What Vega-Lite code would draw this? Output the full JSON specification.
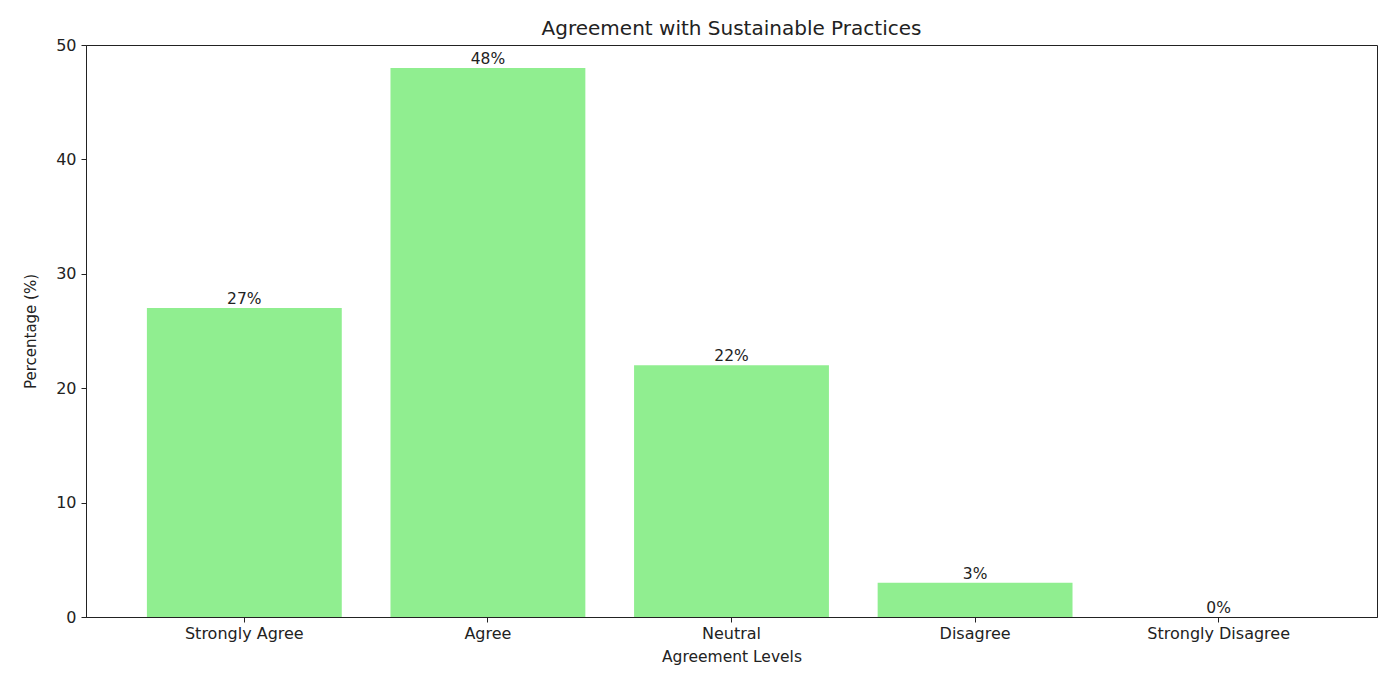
{
  "$schema": "https://vega.github.io/schema/vega-lite/v6.json",
  "width": 1291,
  "height": 572,
  "autosize": {"type": "none"},
  "padding": {"left": 86, "top": 45, "right": 17, "bottom": 56},
  "background": "white",
  "title": {"text": "Agreement with Sustainable Practices", "font": "DejaVu Sans", "fontSize": 20, "fontWeight": "normal", "color": "#222", "offset": -2},
  "data": {"values": [
    {"level": "Strongly Agree", "pct": 27, "label": "27%"},
    {"level": "Agree", "pct": 48, "label": "48%"},
    {"level": "Neutral", "pct": 22, "label": "22%"},
    {"level": "Disagree", "pct": 3, "label": "3%"},
    {"level": "Strongly Disagree", "pct": 0, "label": "0%"}
  ]},
  "encoding": {
    "x": {"field": "level", "type": "nominal", "sort": null,
      "scale": {"paddingInner": 0.2, "paddingOuter": 0.25},
      "axis": {"title": "Agreement Levels", "labelAngle": 0, "labelFont": "DejaVu Sans", "labelFontSize": 16, "labelColor": "#222", "titleFont": "DejaVu Sans", "titleFontSize": 15.5, "titleFontWeight": "normal", "titleColor": "#222", "tickColor": "#222", "domainColor": "#222", "tickSize": 5, "labelPadding": 3, "titlePadding": 8}},
    "y": {"field": "pct", "type": "quantitative",
      "scale": {"domain": [0, 50], "nice": false},
      "axis": {"title": "Percentage (%)", "values": [0, 10, 20, 30, 40, 50], "grid": false, "labelFont": "DejaVu Sans", "labelFontSize": 16, "labelColor": "#222", "titleFont": "DejaVu Sans", "titleFontSize": 15, "titleFontWeight": "normal", "titleColor": "#222", "tickColor": "#222", "domainColor": "#222", "tickSize": 5, "labelPadding": 5, "titlePadding": 17}}
  },
  "layer": [
    {"mark": {"type": "bar", "color": "#90EE90"}},
    {"mark": {"type": "text", "baseline": "bottom", "dy": -1, "font": "DejaVu Sans", "fontSize": 15.5, "color": "#222"},
     "encoding": {"text": {"field": "label", "type": "nominal"}}}
  ],
  "config": {"view": {"stroke": "#222", "strokeWidth": 1}}
}
